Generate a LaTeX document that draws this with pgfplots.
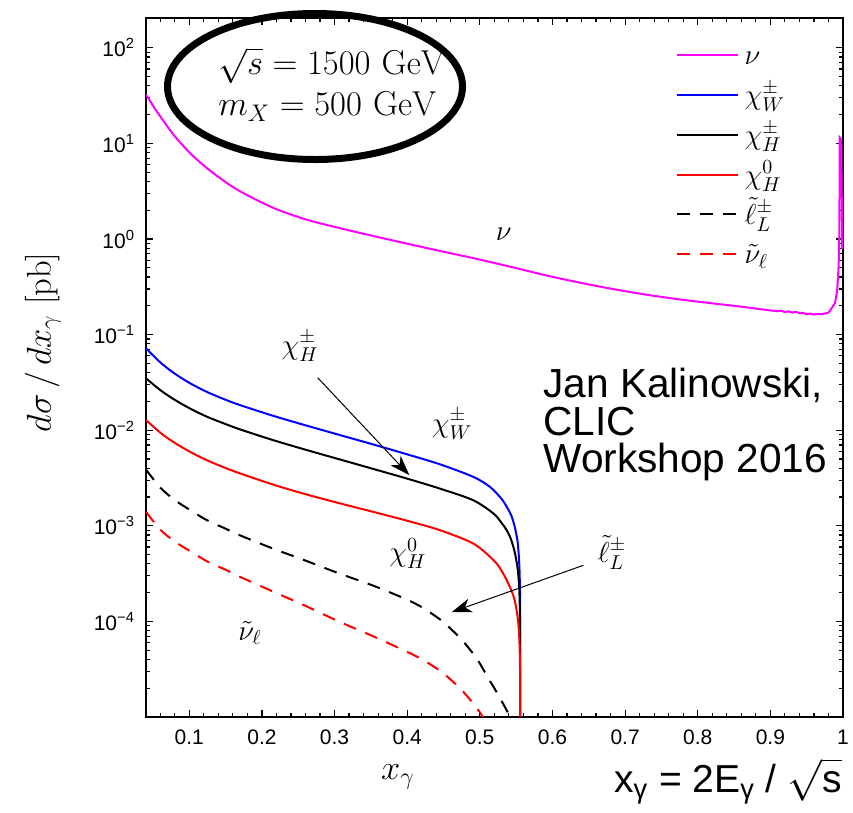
\documentclass[border=0pt]{standalone}
\usepackage[no-math]{fontspec}
\usepackage{pgfplots}
\pgfplotsset{compat=1.18}
\usetikzlibrary{arrows.meta}
\newfontfamily\hv{Liberation Sans}
\definecolor{magentaX}{rgb}{1,0,1}
\definecolor{blueX}{rgb}{0,0,1}
\definecolor{redX}{rgb}{1,0,0}

\begin{document}
\begin{tikzpicture}
\useasboundingbox (-73pt,-48pt) rectangle (353.5pt,358.5pt);
\begin{axis}[
  at={(0pt,0pt)}, anchor=south west,
  scale only axis, width=348.5pt, height=349.5pt,
  xmin=0.0404, xmax=1,
  ymode=log, ymin=1e-5, ymax=205,
  clip mode=individual,
  axis line style={line width=0.8pt},
  every tick/.style={black, line width=0.6pt},
  major tick length=3.5pt, minor tick length=1.8pt,
  tick align=inside,
  xtick={0.1,0.2,0.3,0.4,0.5,0.6,0.7,0.8,0.9,1},
  minor xtick={0.06,0.08,0.12,0.14,0.16,0.18,0.22,0.24,0.26,0.28,0.32,0.34,0.36,0.38,0.42,0.44,0.46,0.48,0.52,0.54,0.56,0.58,0.62,0.64,0.66,0.68,0.72,0.74,0.76,0.78,0.82,0.84,0.86,0.88,0.92,0.94,0.96,0.98},
  /pgf/number format/assume math mode=true,
  xticklabel style={font=\hv\fontsize{10.5}{12}\selectfont, yshift=-3pt},
  ytick={1e-5,1e-4,1e-3,1e-2,1e-1,1,10,100},
  yticklabels={{},{10\textsuperscript{−4}},{10\textsuperscript{−3}},{10\textsuperscript{−2}},{10\textsuperscript{−1}},{10\textsuperscript{0}},{10\textsuperscript{1}},{10\textsuperscript{2}}},
  yticklabel style={font=\hv\fontsize{10.5}{12}\selectfont, xshift=-2pt},
  minor ytick={2e-5,3e-5,4e-5,5e-5,6e-5,7e-5,8e-5,9e-5,2e-4,3e-4,4e-4,5e-4,6e-4,7e-4,8e-4,9e-4,2e-3,3e-3,4e-3,5e-3,6e-3,7e-3,8e-3,9e-3,2e-2,3e-2,4e-2,5e-2,6e-2,7e-2,8e-2,9e-2,0.2,0.3,0.4,0.5,0.6,0.7,0.8,0.9,2,3,4,5,6,7,8,9,20,30,40,50,60,70,80,90},
  ylabel={$d\sigma\,/\,dx_{\gamma}\;[\mathrm{pb}]$},
  ylabel style={at={(axis description cs:-0.148,0.536)}, anchor=center, font=\fontsize{17.5}{20}\selectfont},
  xlabel={$x_{\gamma}$},
  xlabel style={at={(axis description cs:0.3616,-0.0858)}, anchor=center, font=\fontsize{17.5}{20}\selectfont},
  legend style={at={(axis description cs:0.760,0.9671)}, anchor=north west, draw=none, fill=none,
    inner sep=0pt, outer sep=0pt, row sep=0pt, font=\fontsize{14}{16}\selectfont,
    nodes={inner sep=0pt, text height=12pt, text depth=7.9pt},
    /tikz/every odd column/.append style={column sep=3pt}},
  legend cell align=left,
  legend image code/.code={\draw[#1] (0pt,2.8pt) -- (30.5pt,2.8pt);},
  every axis plot/.append style={line width=1pt, mark=none},
]
% nu
\addplot[magentaX, smooth, tension=0.5] coordinates {
(0.0404,32.4) (0.0551,21.7) (0.078,12.4) (0.101,7.94) (0.124,5.53) (0.147,4.09) (0.170,3.15)
(0.216,2.11) (0.262,1.589) (0.307,1.300) (0.353,1.076) (0.399,0.897) (0.445,0.750) (0.491,0.631)
(0.546,0.504) (0.592,0.415) (0.638,0.349) (0.684,0.299) (0.730,0.261) (0.776,0.233)
(0.821,0.212) (0.867,0.193) (0.88,0.187) (0.89,0.183) (0.90,0.179) (0.91,0.176) (0.915,0.178)
(0.92,0.172) (0.925,0.175) (0.93,0.170) (0.935,0.173) (0.94,0.168) (0.945,0.169) (0.95,0.163)
(0.955,0.166) (0.96,0.162) (0.965,0.165) (0.97,0.163) (0.975,0.166) (0.98,0.170) (0.9845,0.19)
};
\addlegendentry{$\nu$}
\addplot[magentaX, forget plot] coordinates {
(0.9845,0.19) (0.989,0.213) (0.992,0.29) (0.994,0.52) (0.995,1.2) (0.9955,11.5) (0.9975,11.0) (0.999,0.78)
};
% chi_W
\addplot[blueX, smooth, tension=0.5] coordinates {
(0.0404,0.0719) (0.06,0.0513) (0.078,0.0400) (0.10,0.0313) (0.124,0.0252) (0.15,0.0208) (0.170,0.0183)
(0.216,0.0141) (0.262,0.01114) (0.307,0.00891) (0.353,0.0071) (0.399,0.00562) (0.445,0.0044)
(0.491,0.00325) (0.514,0.00255) (0.530,0.00191) (0.537,0.00158) (0.543,0.0013) (0.548,0.00098)
(0.552,0.00068) (0.554,0.00044) (0.555,0.00027) (0.5555,0.00011) (0.5556,0.000001)
};
\addlegendentry{$\chi^{\pm}_{W}$}
% chi_H +-
\addplot[black, smooth, tension=0.5] coordinates {
(0.0404,0.0349) (0.06,0.0263) (0.078,0.02123) (0.10,0.01702) (0.124,0.01387) (0.15,0.01159) (0.170,0.01019)
(0.216,0.00785) (0.262,0.00619) (0.307,0.00495) (0.353,0.00394) (0.399,0.00313) (0.445,0.00245)
(0.491,0.00185) (0.519,0.00134) (0.530,0.00107) (0.537,0.00090) (0.543,0.00072) (0.548,0.00053)
(0.552,0.00036) (0.554,0.00024) (0.555,0.000145) (0.5555,0.00006) (0.5556,0.000001)
};
\addlegendentry{$\chi^{\pm}_{H}$}
% chi_H 0
\addplot[redX, smooth, tension=0.5] coordinates {
(0.0404,0.01276) (0.06,0.00944) (0.078,0.00753) (0.10,0.0060) (0.124,0.00486) (0.15,0.00402) (0.170,0.00353)
(0.216,0.00269) (0.262,0.00212) (0.307,0.00172) (0.353,0.00140) (0.399,0.001135) (0.445,0.00090)
(0.491,0.000652) (0.519,0.000436) (0.530,0.000338) (0.537,0.000269) (0.543,0.000215) (0.548,0.000166)
(0.552,0.000112) (0.554,0.000075) (0.555,0.000045) (0.5555,0.000019) (0.5556,0.000001)
};
\addlegendentry{$\chi^{0}_{H}$}
% slepton L
\addplot[black, smooth, tension=0.5, dash pattern=on 6.5pt off 5pt] coordinates {
(0.0404,3.88e-3) (0.06,2.51e-3) (0.08,1.86e-3) (0.10,1.48e-3) (0.124,1.148e-3) (0.15,9.33e-4) (0.17,7.94e-4)
(0.216,5.75e-4) (0.262,4.27e-4) (0.307,3.16e-4) (0.353,2.37e-4) (0.399,1.70e-4) (0.42,1.41e-4)
(0.436,1.175e-4) (0.45,9.82e-5) (0.468,7.31e-5) (0.48,5.82e-5) (0.491,4.57e-5) (0.50,3.63e-5)
(0.514,2.37e-5) (0.52,2.0e-5) (0.532,1.38e-5) (0.5416,1.0e-5) (0.548,7.6e-6)
};
\addlegendentry{$\tilde{\ell}^{\pm}_{L}$}
% sneutrino
\addplot[redX, smooth, tension=0.5, dash pattern=on 6.5pt off 5pt] coordinates {
(0.0404,1.40e-3) (0.06,9.12e-4) (0.08,6.84e-4) (0.10,5.50e-4) (0.124,4.27e-4) (0.15,3.47e-4) (0.17,2.92e-4)
(0.216,2.04e-4) (0.262,1.43e-4) (0.307,9.89e-5) (0.353,7.0e-5) (0.399,4.84e-5) (0.42,4.03e-5)
(0.436,3.39e-5) (0.45,2.86e-5) (0.468,2.16e-5) (0.48,1.74e-5) (0.491,1.38e-5) (0.50,1.12e-5)
(0.514,7.5e-6) (0.52,6.5e-6)
};
\addlegendentry{$\tilde{\nu}_{\ell}$}

% annotations
\draw[line width=3.5pt] (axis description cs:0.2425,0.902) ellipse [x radius=73.75pt, y radius=36.5pt];
\node[anchor=base west, inner sep=0pt, font=\fontsize{18.5}{20}\selectfont] at (axis description cs:0.1033,0.9185) {$\sqrt{s} = 1500\ \mathrm{GeV}$};
\node[anchor=base west, inner sep=0pt, font=\fontsize{18.5}{20}\selectfont] at (axis description cs:0.1033,0.8598) {$m_{X} = 500\ \mathrm{GeV}$};

\node[font=\fontsize{14.5}{16}\selectfont] at (axis cs:0.533,1.11) {$\nu$};
\node[font=\fontsize{14.5}{16}\selectfont] at (axis cs:0.2525,0.076) {$\chi^{\pm}_{H}$};
\node[font=\fontsize{14.5}{16}\selectfont] at (axis cs:0.4617,0.0116) {$\chi^{\pm}_{W}$};
\node[font=\fontsize{14.5}{16}\selectfont] at (axis cs:0.401,5.15e-4) {$\chi^{0}_{H}$};
\node[font=\fontsize{14.5}{16}\selectfont] at (axis cs:0.682,5.28e-4) {$\tilde{\ell}^{\pm}_{L}$};
\node[font=\fontsize{14.5}{16}\selectfont] at (axis cs:0.1837,7.52e-5) {$\tilde{\nu}_{\ell}$};

\draw[line width=0.5pt, -{Stealth[length=10pt, width=7pt, inset=3pt]}] (axis cs:0.2768,0.0354) -- (axis cs:0.4029,0.00339);
\draw[line width=0.5pt, -{Stealth[length=10pt, width=7pt, inset=3pt]}] (axis cs:0.6425,3.86e-4) -- (axis cs:0.4613,1.25e-4);

\node[anchor=base west, inner sep=0pt, font=\hv\fontsize{20.3}{22}\selectfont] at (axis description cs:0.5696,0.4564) {Jan Kalinowski,};
\node[anchor=base west, inner sep=0pt, font=\hv\fontsize{20.3}{22}\selectfont] at (axis description cs:0.5696,0.4034) {CLIC};
\node[anchor=base west, inner sep=0pt, font=\hv\fontsize{20.3}{22}\selectfont] at (axis description cs:0.5696,0.3505) {Workshop 2016};

\node[anchor=base east, inner sep=0pt, font=\hv\fontsize{19.5}{22}\selectfont] at (axis description cs:0.9986,-0.1073) {x\textsubscript{γ} = 2E\textsubscript{γ} / $\sqrt{\mbox{s}}$};
\end{axis}
\end{tikzpicture}
\end{document}
